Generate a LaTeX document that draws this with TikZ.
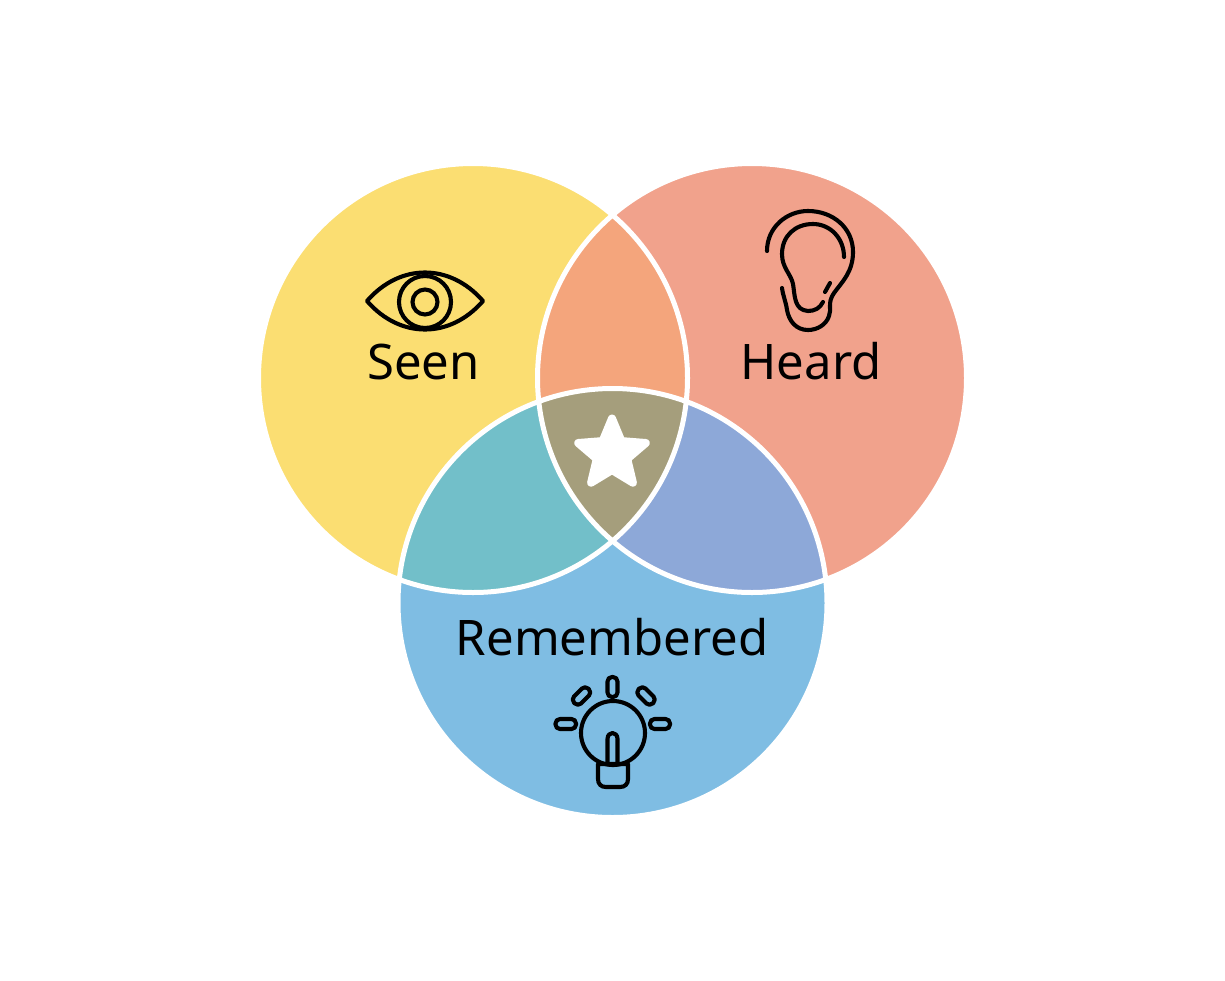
\documentclass[tikz,border=0pt]{standalone}
\usepackage{fontspec}
\setmainfont{Noto Sans}
\definecolor{cy}{HTML}{FBDE72}
\definecolor{cr}{HTML}{F1A28C}
\definecolor{cb}{HTML}{7FBDE3}
\definecolor{cyr}{HTML}{F4A57C}
\definecolor{cyb}{HTML}{72BFC9}
\definecolor{crb}{HTML}{8DA8D8}
\definecolor{cmid}{HTML}{A59E7C}
\tikzset{
  ring/.style={draw=white,line width=5pt},
  icon/.style={draw=black,line width=4.1pt,line cap=round,line join=round},
  lbl/.style={anchor=base,inner sep=0pt,font=\fontsize{49}{53}\selectfont,text=black}
}
\begin{document}
\begin{tikzpicture}[x=1pt,y=-1pt]
\useasboundingbox (0,0) rectangle (1225,980);
\def\ca{(473,378) circle[radius=214.5]}
\def\cc{(752,378) circle[radius=214.5]}
\def\cd{(612.5,603) circle[radius=214.5]}
\fill[cy] \ca;
\fill[cr] \cc;
\fill[cb] \cd;
\begin{scope}\clip \ca; \fill[cyr] \cc; \fill[cyb] \cd; \end{scope}
\begin{scope}\clip \cc; \fill[crb] \cd; \end{scope}
\begin{scope}\clip \ca; \clip \cc; \fill[cmid] \cd; \end{scope}
\draw[ring] \ca;
\draw[ring] \cc;
\draw[ring] \cd;
% star
\filldraw[white,line width=8pt,line join=round] (612,418.5) -- (621.4,441.1) -- (645.8,443) -- (627.2,458.9) -- (632.9,482.7) -- (612,470) -- (591.1,482.7) -- (596.8,458.9) -- (578.2,443) -- (602.6,441.1) -- cycle;
% eye
\draw[icon] (367,301) .. controls (400,263) and (450,263) .. (483,301) .. controls (450,339) and (400,339) .. cycle;
\draw[icon] (425,302) circle[radius=26];
\draw[icon] (425,302) circle[radius=12.5];
% ear
\draw[icon] (767,251) .. controls (767,227) and (787,211) .. (808,211) .. controls (833,211) and (853,228) .. (853,252) .. controls (853,272) and (842,282) .. (834,293) .. controls (827,303) and (832,309) .. (829,316) .. controls (826,325) and (817,330) .. (808,330) .. controls (796,330) and (789,321) .. (787,310) .. controls (786,302) and (783,296) .. (782,288);
\draw[icon] (844,257) .. controls (844,238) and (830,224) .. (813,224) .. controls (795,224) and (782,236) .. (782,254) .. controls (782,268) and (791,274) .. (793,284) .. controls (795,296) and (794,310) .. (808,311) .. controls (815,311) and (820,308) .. (823,302);
\draw[icon] (825,292) -- (830,283);
% bulb
\draw[icon] (613,733) circle[radius=32];
\draw[icon] (598,764) -- (628,764) -- (628,779) .. controls (628,784) and (625,787) .. (620,787) -- (606,787) .. controls (601,787) and (598,784) .. (598,779) -- cycle;
\draw[icon] (607.5,764) -- (607.5,739) .. controls (607.5,731) and (617.5,731) .. (617.5,739) -- (617.5,764);
\draw[icon,rounded corners=4.5pt] (607.5,677) rectangle (617.5,697);
\draw[icon,rounded corners=4.5pt] (555.5,719) rectangle (576,729);
\draw[icon,rounded corners=4.5pt] (650,719) rectangle (670,729);
\draw[icon,rounded corners=4.5pt,shift={(581.5,696)},rotate=45] (-10,-5) rectangle (10,5);
\draw[icon,rounded corners=4.5pt,shift={(646,696)},rotate=-45] (-10,-5) rectangle (10,5);
% labels
\node[lbl] (seen) at (423.5,379) {Seen};
\node[lbl] (heard) at (811,379) {Heard};
\node[lbl] (remembered) at (612,655) {Remembered};
\end{tikzpicture}
\end{document}
